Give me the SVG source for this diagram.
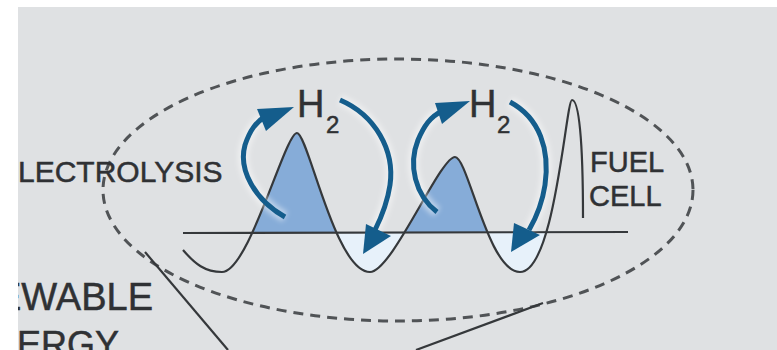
<svg xmlns="http://www.w3.org/2000/svg" width="777" height="350" viewBox="0 0 777 350">
<style>
.t{font-family:"Liberation Sans",Arial,sans-serif;fill:#2f3134;stroke:#2f3134;stroke-width:0.5}
.arr{fill:none;stroke:#145d8c;stroke-width:5;stroke-linecap:butt}
.halo{fill:none;stroke:#ffffff;stroke-width:11;opacity:.45}
.head{fill:#145d8c}
.ln{fill:none;stroke:#35383b;stroke-width:2.2}
</style>
<defs>
<path id="wave" d="M183,250 C195,264 205,272 222,272 C249,272 285,133 297,133 C308,133 335,272 370,272 C392,272 440,157 455,157 C468,157 488,272 520,272 C555,272 566,100 572,100 C579,100 583,140 583,218"/>
<path id="waveUp" d="M183,250 C195,264 205,272 222,272 C249,272 285,133 297,133 C308,133 335,272 370,272 C392,272 440,157 455,157 C468,157 488,272 520,272 C555,272 566,100 572,100 C579,100 583,140 583,218 L583,245 L183,245 Z"/>
<path id="waveDown" d="M183,250 C195,264 205,272 222,272 C249,272 285,133 297,133 C308,133 335,272 370,272 C392,272 440,157 455,157 C468,157 488,272 520,272 C555,272 566,100 572,100 C579,100 583,140 583,218 L583,215 L183,215 Z"/>
<clipPath id="up"><rect x="245" y="0" width="250" height="232.5"/></clipPath>
<clipPath id="down"><rect x="335" y="232" width="225" height="60"/></clipPath>
<filter id="blur" x="-20%" y="-20%" width="140%" height="140%"><feGaussianBlur stdDeviation="2.5"/></filter>
</defs>
<rect x="0" y="0" width="777" height="350" fill="#dfe1e3"/>

<g id="ellipse">
<ellipse cx="398" cy="190" rx="295" ry="131" fill="none" stroke="#505356" stroke-width="3" stroke-dasharray="10 7"/>
</g>

<g id="wave-fill">
<use href="#waveUp" fill="#86acd8" clip-path="url(#up)"/>
<use href="#waveDown" fill="#e7f1fa" clip-path="url(#down)"/>
</g>

<g id="axis">
<line class="ln" x1="183" y1="233" x2="628" y2="232" stroke-width="2.6"/>
</g>

<g id="wave-line">
<use href="#wave" class="ln"/>
</g>

<g id="connectors">
<g filter="url(#blur)">
<path class="halo" d="M285,217 C255,200 238,170 245,145 C250,130 256,122 266,116"/>
<path class="halo" d="M340,100 C375,115 395,150 390,185 C387,205 381,218 375,230"/>
<path class="halo" d="M437,212 C415,195 408,165 418,140 C424,126 430,117 442,111"/>
<path class="halo" d="M510,102 C540,118 550,150 545,185 C542,205 536,218 529,230"/>
</g>
<path class="arr" d="M285,217 C255,200 238,170 245,145 C250,130 256,122 266,116"/>
<polygon class="head" points="294,107 257,109 266,131"/>
<path class="arr" d="M340,100 C375,115 395,150 390,185 C387,205 381,218 375,230"/>
<polygon class="head" points="363,254 366,224 391,236"/>
<path class="arr" d="M437,212 C415,195 408,165 418,140 C424,126 430,117 442,111"/>
<polygon class="head" points="470,101 435,103 442,124"/>
<path class="arr" d="M510,102 C540,118 550,150 545,185 C542,205 536,218 529,230"/>
<polygon class="head" points="511,252 514,223 540,235"/>
<line class="ln" x1="145" y1="252" x2="228" y2="350"/>
<line class="ln" x1="416" y1="350" x2="543" y2="303"/>
</g>

<g id="h2-left">
<text class="t" x="297" y="117" font-size="38">H</text>
<text class="t" x="326" y="133" font-size="24">2</text>
</g>
<g id="h2-right">
<text class="t" x="469" y="117" font-size="38">H</text>
<text class="t" x="497" y="133" font-size="24">2</text>
</g>

<g id="electrolysis">
<text class="t" x="-2" y="182" font-size="30">ELECTROLYSIS</text>
</g>
<g id="fuel-cell">
<text class="t" x="590" y="172" font-size="29">FUEL</text>
<text class="t" x="589" y="206" font-size="29">CELL</text>
</g>
<g id="renewable">
<text class="t" x="-4" y="310" font-size="38">EWABLE</text>
<text class="t" x="17" y="357" font-size="36">ERGY</text>
</g>

<rect x="0" y="0" width="18" height="350" fill="#ffffff"/>
<rect x="0" y="0" width="777" height="7" fill="#ffffff"/>
</svg>
